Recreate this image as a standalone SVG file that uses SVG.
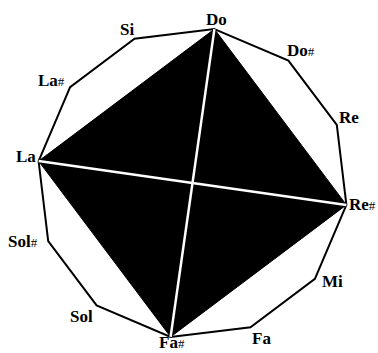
<svg xmlns="http://www.w3.org/2000/svg" width="378" height="353" viewBox="0 0 378 353">
<style>
.lbl{font-family:"Liberation Serif","Times New Roman",serif;font-weight:bold;font-size:17px;fill:#000}
.sh{font-weight:normal;font-size:13px}
.edge{fill:none;stroke:#000;stroke-width:2;stroke-linejoin:miter}
.diag{stroke:#fff;stroke-width:2.5}
</style>
<rect width="378" height="353" fill="#fff"/>
<g id="connectors">
<polygon class="edge" points="214.4,29.1 288.4,60.6 336.8,125 346.4,204.9 314.9,278.9 250.5,327.3 170.6,336.9 96.6,305.4 48.2,241 38.6,161.1 70.1,87.1 134.5,38.7"/>
<polygon id="tetrachord" points="214.4,29.1 346.4,204.9 170.6,336.9 38.6,161.1" fill="#000" stroke="#000" stroke-width="1"/>
<line class="diag" x1="214.4" y1="29.1" x2="170.6" y2="336.9"/>
<line class="diag" x1="38.6" y1="161.1" x2="346.4" y2="204.9"/>
</g>
<g id="n-do"><text class="lbl" x="206" y="25">Do</text></g>
<g id="n-dos"><text class="lbl" x="287" y="56">Do<tspan class="sh">#</tspan></text></g>
<g id="n-re"><text class="lbl" x="339" y="123">Re</text></g>
<g id="n-res"><text class="lbl" x="349" y="210">Re<tspan class="sh">#</tspan></text></g>
<g id="n-mi"><text class="lbl" x="322" y="287">Mi</text></g>
<g id="n-fa"><text class="lbl" x="252" y="344">Fa</text></g>
<g id="n-fas"><text class="lbl" x="159" y="348">Fa<tspan class="sh">#</tspan></text></g>
<g id="n-sol"><text class="lbl" x="70" y="322">Sol</text></g>
<g id="n-sols"><text class="lbl" x="8" y="247">Sol<tspan class="sh">#</tspan></text></g>
<g id="n-la"><text class="lbl" x="16" y="162">La</text></g>
<g id="n-las"><text class="lbl" x="38" y="86">La<tspan class="sh">#</tspan></text></g>
<g id="n-si"><text class="lbl" x="120" y="35">Si</text></g>
</svg>
